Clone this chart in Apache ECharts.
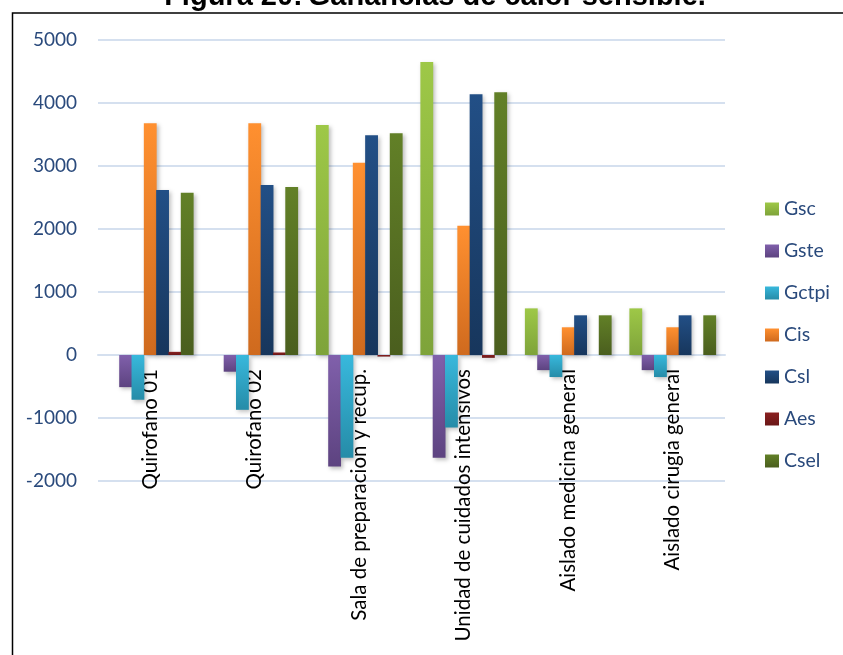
<!DOCTYPE html>
<html><head><meta charset="utf-8">
<script src="https://cdn.jsdelivr.net/npm/echarts@6/dist/echarts.min.js"></script>
<style>html,body{margin:0;padding:0;background:#fff}#c{width:843px;height:655px}</style>
</head><body><div id="c"></div>
<script>
var categories = ['Quirofano 01','Quirofano 02','Sala de preparacion y recup.','Unidad de cuidados intensivos','Aislado medicina general','Aislado cirugia general'];
var seriesNames = ['Gsc','Gste','Gctpi','Cis','Csl','Aes','Csel'];
var Gsc   = [0, 0, 3650, 4650, 740, 740];
var Gste  = [-510, -265, -1770, -1630, -240, -240];
var Gctpi = [-710, -870, -1630, -1150, -350, -350];
var Cis   = [3680, 3680, 3050, 2050, 440, 440];
var Csl   = [2620, 2700, 3490, 4140, 630, 630];
var Aes   = [50, 40, -25, -45, 0, 0];
var Csel  = [2575, 2665, 3520, 4170, 630, 630];
var yTicks = [-2000, -1000, 0, 1000, 2000, 3000, 4000, 5000];

var seriesData = [Gsc, Gste, Gctpi, Cis, Csl, Aes, Csel];
var grads = [
  ['#9ec847', '#7ea33a'],
  ['#8060ab', '#5d4380'],
  ['#38b8dc', '#268ca8'],
  ['#ff9030', '#cf6a1e'],
  ['#224f86', '#17365c'],
  ['#8a2020', '#6a1717'],
  ['#628027', '#4a5e1e']
];
function grad(c){ return new echarts.graphic.LinearGradient(0,0,0,1,[{offset:0,color:c[0]},{offset:1,color:c[1]}]); }

var chart = echarts.init(document.getElementById('c'), null, {renderer:'canvas'});
var series = seriesNames.map(function(n,i){
  return {
    name: n, type: 'bar', data: seriesData[i],
    barGap: '-4%', barCategoryGap: '17%',
    itemStyle: { color: grad(grads[i]), shadowColor: 'rgba(0,0,0,0.25)', shadowBlur: 4, shadowOffsetX: 2, shadowOffsetY: 2 },
    emphasis: { disabled: true }
  };
});
chart.setOption({
  animation: false,
  backgroundColor: '#fff',
  title: {
    text: '{b|Figura 20:} {n|Ganancias de calor sensible.}',
    left: 430, top: -23, textAlign: 'center',
    textStyle: { rich: {
      b: { fontFamily: 'Liberation Sans, Arial', fontWeight: 'bold', fontSize: 29, color: '#000' },
      n: { fontFamily: 'Liberation Sans, Arial', fontSize: 29, color: '#000' }
    } }
  },
  legend: {
    orient: 'vertical', left: 765, top: 199, icon: 'rect', padding: 0,
    itemWidth: 14, itemHeight: 13, itemGap: 22,
    data: seriesNames.map(function(n,i){ return { name: n, itemStyle: { color: grad(grads[i]) } }; }),
    textStyle: { fontFamily: 'Lato', fontSize: 19.5, color: '#2a4a7c', lineHeight: 20 }
  },
  grid: { left: 98, right: 118, top: 40, bottom: 174, containLabel: false, outerBoundsMode: 'none' },
  xAxis: {
    type: 'category', data: categories, offset: -126,
    axisLine: { onZero: false, lineStyle: { color: '#d5e0ef', width: 2 } },
    axisTick: { show: false },
    axisLabel: { rotate: 90, margin: 14, fontFamily: 'Lato', fontSize: 20.5, color: '#000', interval: 0, hideOverlap: false },
    z: 1
  },
  yAxis: {
    type: 'value', min: yTicks[0], max: yTicks[yTicks.length-1], interval: 1000,
    axisLine: { show: false }, axisTick: { show: false },
    axisLabel: { margin: 21, fontFamily: 'Lato', fontSize: 19, color: '#2a4a7c', formatter: function(v){ return String(v); } },
    splitLine: { lineStyle: { color: '#d5e0ef', width: 2 } }
  },
  graphic: [{
    type: 'rect', shape: { x: 12.5, y: 13, width: 900, height: 700 },
    style: { fill: 'none', stroke: '#000', lineWidth: 1.5 }, silent: true, z: 100
  }],
  series: series
});
</script></body></html>
